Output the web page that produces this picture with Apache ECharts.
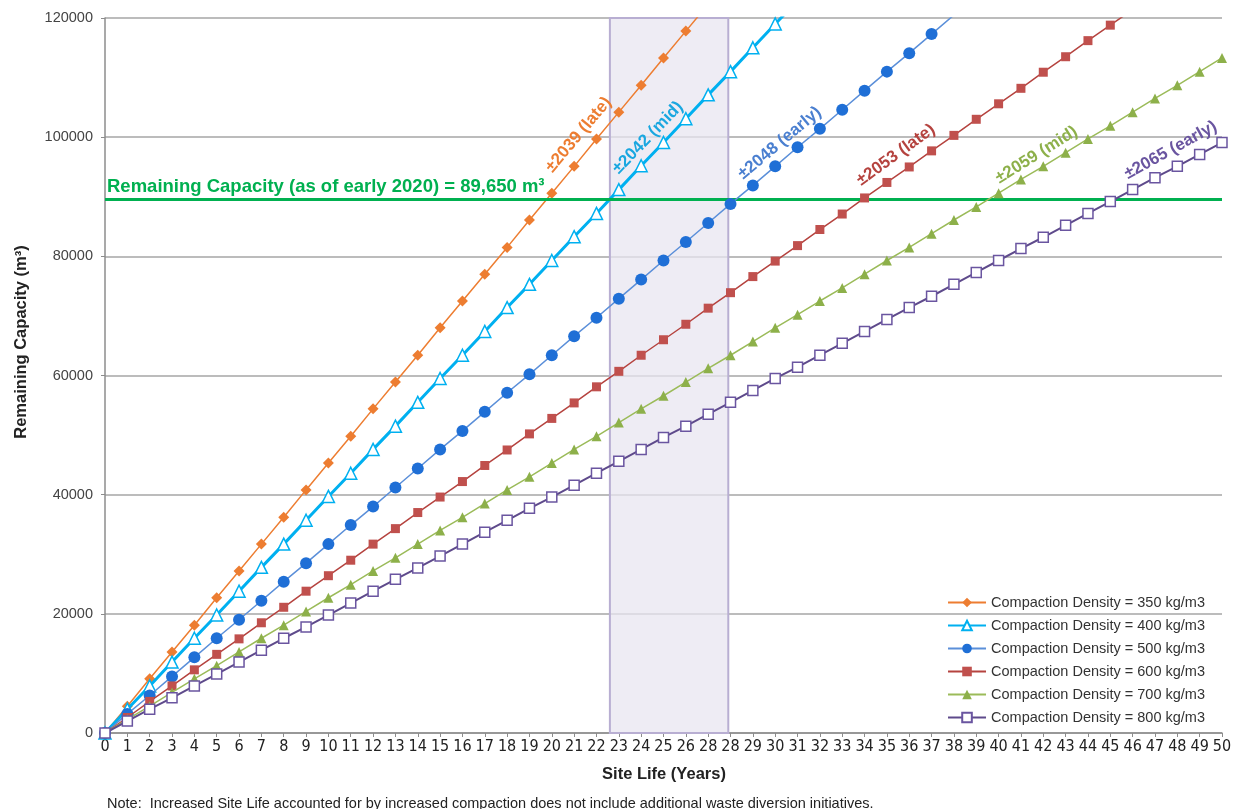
<!DOCTYPE html>
<html>
<head>
<meta charset="utf-8">
<script src="https://cdn.jsdelivr.net/npm/echarts@6/dist/echarts.min.js"></script>
<style>html,body{margin:0;padding:0;background:#fff;}#chart{width:1236px;height:809px;}</style>
</head>
<body>
<div id="chart"></div>
<script>
// ---- Data ----
const xTickLabels = ['0','1','2','3','4','5','6','7','8','9','10','11','12','13','14','15','16','17','18','19','20','21','22','23','24','25','26','28','28','29','30','31','32','33','34','35','36','37','38','39','40','41','42','43','44','45','46','47','48','49','50'];
const seriesNames = ['Compaction Density = 350 kg/m3','Compaction Density = 400 kg/m3','Compaction Density = 500 kg/m3','Compaction Density = 600 kg/m3','Compaction Density = 700 kg/m3','Compaction Density = 800 kg/m3'];
const d350 = [0,4500,9100,13600,18100,22700,27200,31700,36200,40800,45300,49800,54400,58900,63400,68000,72500,77000,81500,86100,90600,95100,99700,104200,108700,113300,117800,122300];
const d400 = [0,4000,7900,11900,15900,19800,23800,27800,31700,35700,39700,43600,47600,51500,55500,59500,63400,67400,71400,75300,79300,83300,87200,91200,95200,99100,103100,107100,111000,115000,119000,122900];
const d500 = [0,3200,6300,9500,12700,15900,19000,22200,25400,28500,31700,34900,38000,41200,44400,47600,50700,53900,57100,60200,63400,66600,69700,72900,76100,79300,82400,85600,88800,91900,95100,98300,101400,104600,107800,111000,114100,117300,120500];
const d600 = [0,2600,5300,7900,10600,13200,15800,18500,21100,23800,26400,29000,31700,34300,37000,39600,42200,44900,47500,50200,52800,55400,58100,60700,63400,66000,68600,71300,73900,76600,79200,81800,84500,87100,89800,92400,95000,97700,100300,103000,105600,108200,110900,113500,116200,118800,121400];
const d700 = [0,2300,4500,6800,9100,11300,13600,15900,18100,20400,22700,24900,27200,29400,31700,34000,36200,38500,40800,43000,45300,47600,49800,52100,54400,56600,58900,61200,63400,65700,68000,70200,72500,74700,77000,79300,81500,83800,86100,88300,90600,92900,95100,97400,99700,101900,104200,106500,108700,111000,113300];
const d800 = [0,2000,4000,5900,7900,9900,11900,13900,15900,17800,19800,21800,23800,25800,27700,29700,31700,33700,35700,37700,39600,41600,43600,45600,47600,49600,51500,53500,55500,57500,59500,61400,63400,65400,67400,69400,71400,73300,75300,77300,79300,81300,83200,85200,87200,89200,91200,93200,95100,97100,99100];
const remainingCapacity = 89650;
const remainingLabel = 'Remaining Capacity (as of early 2020) = 89,650 m\u00B3';
const bandRange = [22.6, 27.9];
const annotationTexts = ['\u00B12039 (late)','\u00B12042 (mid)','\u00B12048 (early)','\u00B12053 (late)','\u00B12059 (mid)','\u00B12065 (early)'];
const annotationX = [21.2, 24.3, 30.2, 35.4, 41.7, 47.7];
const annotationY = [100400, 99900, 99000, 97000, 97000, 97800];
const xTitle = 'Site Life (Years)';
const yTitle = 'Remaining Capacity (m\u00B3)';
const noteText = 'Note:  Increased Site Life accounted for by increased compaction does not include additional waste diversion initiatives.';

// ---- Styles ----
const FONT = 'Liberation Sans, Arial, sans-serif';
const NARROW = 'Liberation Sans Narrow, DejaVu Sans Condensed, Liberation Sans, Arial, sans-serif';
const allData = [d350, d400, d500, d600, d700, d800];
const lineColors = ['#ED7D31','#00B0F0','#5B8FD9','#B5433F','#9BBB59','#5E4A8B'];
const markerColors = ['#ED7D31','#00B0F0','#1F6FD6','#C0504D','#8DB04A','#6A55A0'];
const symbols = ['diamond','triangle','circle','rect','triangle','rect'];
const symbolSizes = [11, 12, 12, 9, 10, 10];
const hollow = [false, true, false, false, false, true];
const lineWidths = [1.5, 3, 1.5, 1.5, 1.5, 2];
const annColors = ['#ED7D31','#1AA7E0','#4A7FD0','#B5433F','#8DB04A','#6A55A0'];
const annRotate = [50, 46, 40, 36, 32, 29];

const series = allData.map((arr, i) => ({
  name: seriesNames[i],
  type: 'line',
  data: arr.map((v, k) => [k, v]),
  symbol: symbols[i],
  symbolSize: symbolSizes[i],
  showSymbol: true,
  lineStyle: { color: lineColors[i], width: lineWidths[i] },
  itemStyle: hollow[i]
    ? { color: '#ffffff', borderColor: markerColors[i], borderWidth: 1.5 }
    : { color: markerColors[i], borderColor: markerColors[i], borderWidth: 0 },
  clip: true,
  z: 3 + i,
  markPoint: {
    symbol: 'circle', symbolSize: 0, silent: true,
    data: [{
      coord: [annotationX[i], annotationY[i]],
      label: {
        show: true, formatter: annotationTexts[i], rotate: annRotate[i],
        color: annColors[i], fontSize: 17, fontWeight: 'bold',
        fontFamily: FONT, position: 'inside'
      }
    }]
  }
}));

series.push({
  name: '_band', type: 'line', data: [], silent: true, z: 1,
  markArea: {
    silent: true,
    itemStyle: { color: 'rgba(232,229,240,0.75)', borderColor: '#B8AED2', borderWidth: 2 },
    data: [[{ xAxis: bandRange[0] }, { xAxis: bandRange[1] }]]
  }
});
series.push({
  name: '_cap', type: 'line', data: [], silent: true, z: 2,
  markLine: {
    silent: true, symbol: 'none',
    lineStyle: { color: '#00B050', width: 3, type: 'solid' },
    label: {
      show: true, position: 'insideStartTop', formatter: remainingLabel,
      color: '#00B050', fontSize: 18.5, fontWeight: 'bold', distance: [2, 2],
      fontFamily: FONT
    },
    data: [{ yAxis: remainingCapacity }]
  }
});

const chart = echarts.init(document.getElementById('chart'), null, { renderer: 'canvas' });
chart.setOption({
  animation: false,
  backgroundColor: '#ffffff',
  textStyle: { fontFamily: FONT },
  grid: { left: 105, right: 14, top: 18, bottom: 76, containLabel: false },
  legend: {
    data: seriesNames,
    orient: 'vertical', right: 26, top: 590,
    itemWidth: 38, itemHeight: 12, itemGap: 8,
    textStyle: { fontSize: 14.5, color: '#333', fontFamily: FONT, padding: [0, 0, 0, 0] },
    backgroundColor: 'transparent'
  },
  xAxis: {
    type: 'value', min: 0, max: 50, interval: 1,
    axisLine: { show: true, lineStyle: { color: '#8c8c8c', width: 1.5 } },
    axisTick: { show: true, length: 4, lineStyle: { color: '#8c8c8c' } },
    axisLabel: {
      formatter: v => xTickLabels[v], fontSize: 16, color: '#222', margin: 6,
      fontFamily: NARROW
    },
    splitLine: { show: false }
  },
  yAxis: {
    type: 'value', min: 0, max: 120000, interval: 20000,
    axisLine: { show: true, lineStyle: { color: '#8c8c8c', width: 1.5 } },
    axisTick: { show: true, length: 4, lineStyle: { color: '#8c8c8c' } },
    axisLabel: { formatter: v => String(v), fontSize: 14.5, color: '#444', margin: 12 },
    splitLine: { show: true, lineStyle: { color: '#a6a6a6', width: 1.5 } }
  },
  graphic: [
    {
      type: 'text', x: 21, y: 342, rotation: Math.PI / 2,
      style: { text: yTitle, fontSize: 16.5, fontWeight: 'bold', fill: '#222', fontFamily: FONT,
               textAlign: 'center', textVerticalAlign: 'middle' }
    },
    {
      type: 'text', x: 664, y: 774,
      style: { text: xTitle, fontSize: 16.5, fontWeight: 'bold', fill: '#222', fontFamily: FONT,
               textAlign: 'center', textVerticalAlign: 'middle' }
    },
    {
      type: 'text', left: 107, top: 796,
      style: { text: noteText, fontSize: 14.5, fill: '#222', fontFamily: FONT }
    }
  ],
  series: series
});
</script>
</body>
</html>
